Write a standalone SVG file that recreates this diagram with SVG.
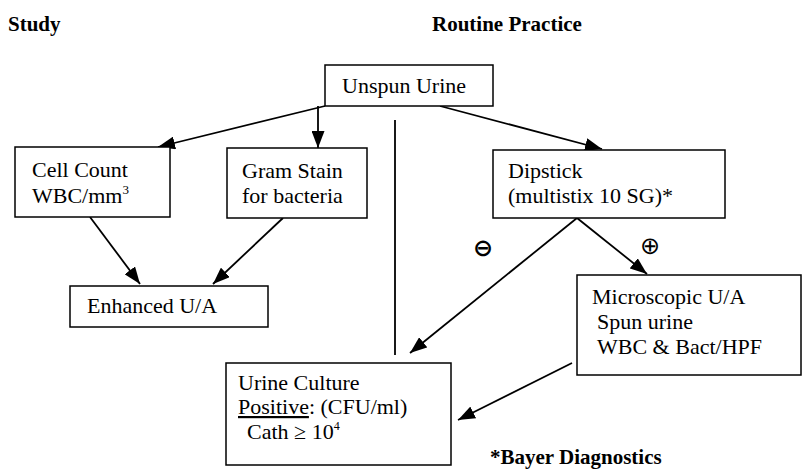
<svg xmlns="http://www.w3.org/2000/svg" width="805" height="475" viewBox="0 0 805 475">
<style>
  .box { fill: #fff; stroke: #000; stroke-width: 1.5; }
  .t { font-family: "Liberation Serif", "Times New Roman", serif; font-size: 22px; fill: #000; }
  .h { font-family: "Liberation Serif", "Times New Roman", serif; font-size: 21px; font-weight: bold; fill: #000; }
  .c { stroke: #000; stroke-width: 1.8; fill: none; }
  .sym { font-family: "DejaVu Sans", sans-serif; font-size: 24px; fill: #000; text-anchor: middle; }
</style>
<defs>
  <marker id="arr" markerUnits="userSpaceOnUse" markerWidth="17" markerHeight="13" refX="17" refY="6.5" orient="auto">
    <path d="M0,0 L17,6.5 L0,13 z" fill="#000"/>
  </marker>
</defs>

<text class="h" x="8" y="31">Study</text>
<text class="h" x="432" y="31">Routine Practice</text>
<text class="h" x="490" y="464" font-size="23">*Bayer Diagnostics</text>

<g id="connectors">
  <line class="c" x1="395" y1="120" x2="395" y2="355"/>
  <line class="c" x1="325" y1="106" x2="158" y2="147" marker-end="url(#arr)"/>
  <line class="c" x1="318" y1="106" x2="318" y2="148" marker-end="url(#arr)"/>
  <line class="c" x1="440" y1="106" x2="602" y2="149" marker-end="url(#arr)"/>
  <line class="c" x1="90" y1="217" x2="140" y2="284" marker-end="url(#arr)"/>
  <line class="c" x1="283" y1="218" x2="213" y2="284" marker-end="url(#arr)"/>
  <line class="c" x1="577" y1="218" x2="410" y2="353" marker-end="url(#arr)"/>
  <line class="c" x1="577" y1="218" x2="647" y2="274" marker-end="url(#arr)"/>
  <line class="c" x1="572" y1="363" x2="458" y2="420" marker-end="url(#arr)"/>
  <text class="sym" x="483" y="256" font-weight="bold">⊖</text>
  <text class="sym" x="650" y="254">⊕</text>
</g>

<g id="unspun">
  <rect class="box" x="325" y="65" width="168" height="41"/>
  <text class="t" x="342" y="93">Unspun Urine</text>
</g>
<g id="cellcount">
  <rect class="box" x="15" y="147" width="155" height="70"/>
  <text class="t" x="32" y="177">Cell Count</text>
  <text class="t" x="32" y="203">WBC/mm<tspan font-size="13" dy="-9">3</tspan></text>
</g>
<g id="gramstain">
  <rect class="box" x="227" y="148" width="140" height="70"/>
  <text class="t" x="242" y="178">Gram Stain</text>
  <text class="t" x="242" y="203">for bacteria</text>
</g>
<g id="dipstick">
  <rect class="box" x="493" y="150" width="232" height="68"/>
  <text class="t" x="508" y="178">Dipstick</text>
  <text class="t" x="508" y="203">(multistix 10 SG)*</text>
</g>
<g id="enhanced">
  <rect class="box" x="70" y="286" width="198" height="41"/>
  <text class="t" x="87" y="313">Enhanced U/A</text>
</g>
<g id="microscopic">
  <rect class="box" x="577" y="275" width="224" height="100"/>
  <text class="t" x="592" y="304">Microscopic U/A</text>
  <text class="t" x="597" y="329">Spun urine</text>
  <text class="t" x="597" y="354">WBC &amp; Bact/HPF</text>
</g>
<g id="culture">
  <rect class="box" x="226" y="363" width="225" height="102"/>
  <text class="t" x="238" y="390" font-size="21">Urine Culture</text>
  <text class="t" x="238" y="414" font-size="21"><tspan text-decoration="underline">Positive</tspan>:  (CFU/ml)</text>
  <text class="t" x="247" y="439" font-size="21">Cath ≥ 10<tspan font-size="12" dy="-9">4</tspan></text>
</g>
</svg>
